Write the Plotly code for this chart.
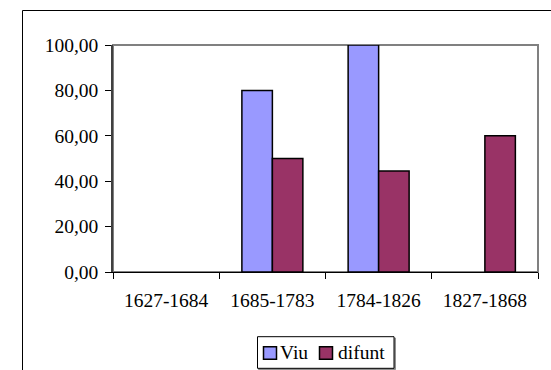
import plotly.graph_objects as go

categories = ["1627-1684", "1685-1783", "1784-1826", "1827-1868"]
viu = [None, 80, 100, None]
difunt = [None, 50, 44.5, 60]
y_ticks = [0, 20, 40, 60, 80, 100]
series_names = ["Viu", "difunt"]
series_colors = ["#9999FF", "#993366"]

W, H = 551, 370
L, R, T, B = 113, 13, 45, 98
pw, ph = W - L - R, H - T - B

def px_x(x):
    return (x - L) / pw

def px_y(y):
    return (H - B - y) / ph

FONT = "Liberation Serif"
FS = 19.5

fig = go.Figure()
for name, vals, col in zip(series_names, [viu, difunt], series_colors):
    fig.add_bar(x=categories, y=vals, name=name,
                marker=dict(color=col, line=dict(color="black", width=1.5)))

shapes = [
    dict(type="rect", xref="paper", yref="paper", x0=0, x1=1, y0=0, y1=1,
         line=dict(color="#808080", width=2), layer="below"),
    dict(type="rect", xref="paper", yref="paper", x0=px_x(22.5), x1=px_x(600),
         y0=px_y(10.5), y1=px_y(420), line=dict(color="black", width=1)),
    # legend shadow + box
    dict(type="rect", xref="paper", yref="paper", x0=px_x(258.5), x1=px_x(395.5),
         y0=px_y(338), y1=px_y(369.5), line=dict(color="#909090", width=1),
         fillcolor="#909090"),
    dict(type="rect", xref="paper", yref="paper", x0=px_x(257.5), x1=px_x(394),
         y0=px_y(336.7), y1=px_y(368.3), line=dict(color="black", width=1),
         fillcolor="white"),
]
annotations = []
legend_sq_x = [263.5, 319.5]
legend_tx_x = [279.3, 337.3]
for name, col, sx, tx in zip(series_names, series_colors, legend_sq_x, legend_tx_x):
    shapes.append(dict(type="rect", xref="paper", yref="paper", x0=px_x(sx), x1=px_x(sx + 13),
                       y0=px_y(346.7), y1=px_y(359.2), fillcolor=col,
                       line=dict(color="black", width=1.5)))
    annotations.append(dict(text=name, xref="paper", yref="paper", x=px_x(tx - 1), y=px_y(352.5),
                            xanchor="left", yanchor="middle", showarrow=False,
                            font=dict(family=FONT, size=FS, color="black")))

fig.update_layout(
    width=W, height=H,
    margin=dict(l=L, r=R, t=T, b=B, autoexpand=False),
    paper_bgcolor="white", plot_bgcolor="white",
    separators=",.",
    barmode="group", bargap=0.426, bargroupgap=0,
    font=dict(family=FONT, size=FS, color="black"),
    showlegend=False,
    xaxis=dict(type="category", tickson="boundaries", ticks="outside", ticklen=6,
               tickcolor="black", showline=True, linecolor="black", linewidth=1,
               showgrid=False, ticklabelstandoff=11,
               tickfont=dict(family=FONT, size=FS)),
    yaxis=dict(range=[0, 100], tickvals=y_ticks, tickformat=".2f", ticks="outside",
               ticklen=6, tickcolor="black", showline=True, linecolor="#404040",
               linewidth=1.5, showgrid=False, zeroline=False, ticklabelstandoff=3,
               tickfont=dict(family=FONT, size=FS)),
    shapes=shapes,
    annotations=annotations,
)

fig.write_html("out.html", config={"displayModeBar": False},
               post_script="document.body.style.margin='0px';document.body.style.overflow='hidden';")
